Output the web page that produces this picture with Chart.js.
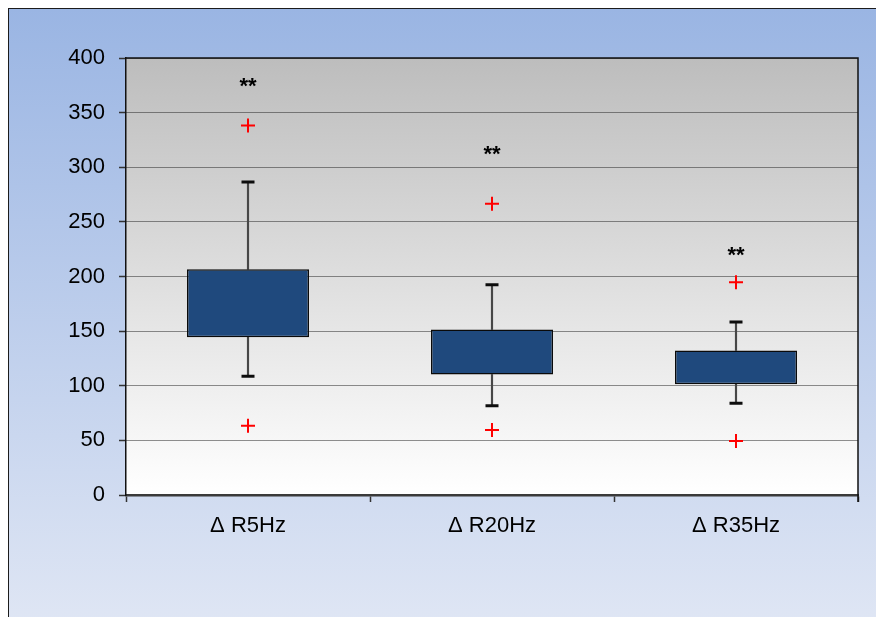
<!DOCTYPE html>
<html>
<head>
<meta charset="utf-8">
<script src="https://cdn.jsdelivr.net/npm/chart.js@4/dist/chart.umd.min.js"></script>
<style>
  html, body { margin: 0; padding: 0; background: #ffffff; overflow: hidden; }
  #frame {
    position: absolute; left: 8px; top: 8px; width: 900px; height: 640px;
    border: 1.5px solid #1c1c1c;
    background: linear-gradient(to bottom, #9ab5e3 0%, #e2e8f5 100%);
  }
  #wrap { position: absolute; left: 0; top: 0; width: 876px; height: 617px; }
</style>
</head>
<body>
<div id="frame"></div>
<div id="wrap"><canvas id="c" width="876" height="617"></canvas></div>
<script>
// Frequency-dependent resistance change (box = quartiles, whiskers = range, + = outliers)
const categories  = ['\u0394 R5Hz', '\u0394 R20Hz', '\u0394 R35Hz'];
const q1          = [144.5, 110.3, 101.4];
const q3          = [206.6, 151.5, 132.3];
const whiskerLow  = [108.7, 81.8, 83.9];
const whiskerHigh = [286.4, 192.5, 158.3];
const outlierHigh = [338.3, 266.5, 194.7];
const outlierLow  = [63.5, 59.5, 49.4];
const sigLevel    = [377, 315, 222];
const sigMark     = ['**', '**', '**'];
const yTicks      = [0, 50, 100, 150, 200, 250, 300, 350, 400];

const FONT = '"Liberation Sans", Arial, sans-serif';

const boxData   = q1.map((v, i) => [v, q3[i]]);
const upperLine = q3.map((v, i) => [v, whiskerHigh[i]]);
const lowerLine = q1.map((v, i) => [whiskerLow[i], v]);

// Grey gradient behind the plot area, plus the top/right frame
const plotBackground = {
  id: 'plotBackground',
  beforeDraw(chart) {
    const { ctx, chartArea: a } = chart;
    const g = ctx.createLinearGradient(0, a.top, 0, a.bottom);
    g.addColorStop(0, '#bdbdbd');
    g.addColorStop(1, '#ffffff');
    ctx.save();
    ctx.fillStyle = g;
    ctx.fillRect(a.left, a.top, a.right - a.left, a.bottom - a.top);
    ctx.restore();
  },
  afterDraw(chart) {
    const { ctx, chartArea: a } = chart;
    ctx.save();
    ctx.strokeStyle = '#111111';
    ctx.lineWidth = 1.5;
    ctx.beginPath();
    ctx.moveTo(a.left, a.top);
    ctx.lineTo(a.right, a.top);
    ctx.lineTo(a.right, a.bottom + 7);
    ctx.stroke();
    ctx.restore();
  }
};

// Significance marks above each box
const sigLabels = {
  id: 'sigLabels',
  afterDatasetsDraw(chart) {
    const { ctx, scales: { x, y } } = chart;
    ctx.save();
    ctx.fillStyle = '#000000';
    ctx.font = 'bold 22px ' + FONT;
    ctx.textAlign = 'center';
    ctx.textBaseline = 'alphabetic';
    sigLevel.forEach((v, i) => {
      ctx.fillText(sigMark[i], x.getPixelForValue(i), y.getPixelForValue(v) + 10);
    });
    ctx.restore();
  }
};

new Chart(document.getElementById('c'), {
  data: {
    labels: categories,
    datasets: [
      {
        type: 'bar', data: boxData, order: 2, grouped: false,
        backgroundColor: '#1f497d', borderColor: '#0a0a0a', borderWidth: 1.5,
        borderSkipped: false, barPercentage: 0.5, categoryPercentage: 1
      },
      {
        type: 'bar', data: upperLine, order: 3, grouped: false,
        backgroundColor: '#474747', barThickness: 1.5
      },
      {
        type: 'bar', data: lowerLine, order: 3, grouped: false,
        backgroundColor: '#474747', barThickness: 1.5
      },
      {
        type: 'line', data: whiskerHigh, order: 1, showLine: false,
        pointStyle: 'line', pointRadius: 6.5, pointBorderWidth: 3,
        pointBorderColor: '#0d0d0d', pointBackgroundColor: '#0d0d0d'
      },
      {
        type: 'line', data: whiskerLow, order: 1, showLine: false,
        pointStyle: 'line', pointRadius: 6.5, pointBorderWidth: 3,
        pointBorderColor: '#0d0d0d', pointBackgroundColor: '#0d0d0d'
      },
      {
        type: 'line', data: outlierHigh, order: 0, showLine: false,
        pointStyle: 'cross', pointRadius: 7, pointBorderWidth: 2,
        pointBorderColor: '#ff0000'
      },
      {
        type: 'line', data: outlierLow, order: 0, showLine: false,
        pointStyle: 'cross', pointRadius: 7, pointBorderWidth: 2,
        pointBorderColor: '#ff0000'
      }
    ]
  },
  options: {
    responsive: false,
    animation: false,
    events: [],
    layout: { padding: { top: 58, right: 18, bottom: 0, left: 0 } },
    plugins: { legend: { display: false }, tooltip: { enabled: false } },
    scales: {
      x: {
        type: 'category',
        offset: true,
        afterFit(s) { s.height = 122; },
        grid: {
          display: true, offset: true, drawOnChartArea: false,
          drawTicks: true, tickLength: 7, tickColor: '#333333', tickWidth: 1.5
        },
        border: { display: true, color: '#3a3a3a', width: 2.5 },
        ticks: { color: '#000000', font: { family: FONT, size: 22 }, padding: 11, maxRotation: 0 }
      },
      y: {
        min: 0, max: 400,
        afterFit(s) { s.width = 126; },
        afterBuildTicks(s) { s.ticks = yTicks.map(v => ({ value: v })); },
        grid: {
          color: '#222222', lineWidth: 1,
          drawTicks: true, tickLength: 7, tickColor: '#333333', tickWidth: 1.5,
          tickBorderDash: []
        },
        border: { display: true, color: '#111111', width: 1.5, dash: [1, 1] },
        ticks: { color: '#000000', font: { family: FONT, size: 22 }, padding: 14 }
      }
    }
  },
  plugins: [plotBackground, sigLabels]
});
</script>
</body>
</html>
